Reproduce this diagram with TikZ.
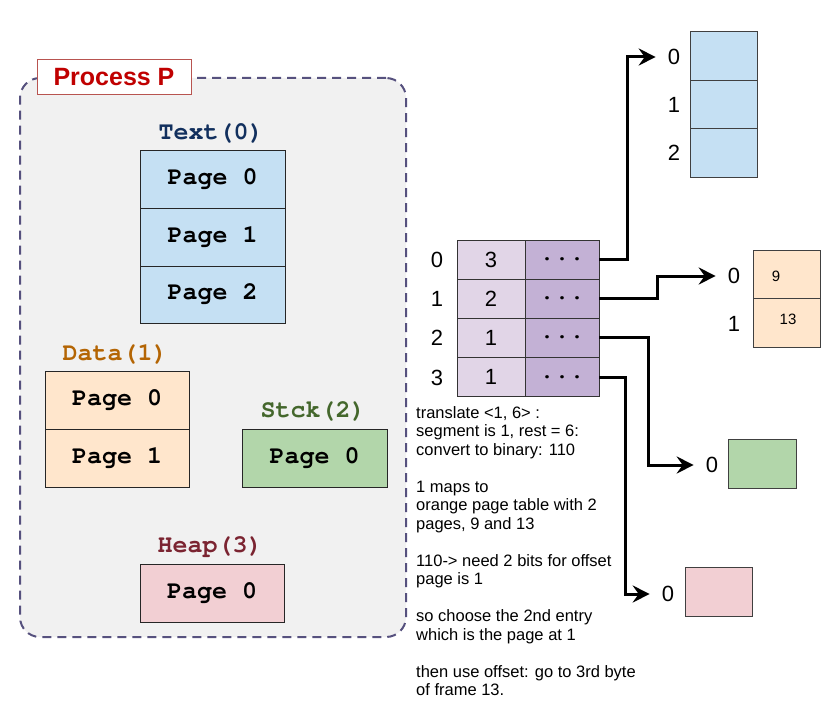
\documentclass[tikz,border=0pt]{standalone}
\usepackage{fontspec}
\setmainfont{Liberation Sans}
\newfontfamily\monof{TeX Gyre Cursor}
\usetikzlibrary{arrows.meta}
\definecolor{procbg}{HTML}{F1F1F1}
\definecolor{procline}{HTML}{56517E}
\definecolor{ptitle}{HTML}{C00000}
\definecolor{ptitleline}{HTML}{B85450}
\definecolor{bluefill}{HTML}{C5E0F3}
\definecolor{orangefill}{HTML}{FFE6CC}
\definecolor{greenfill}{HTML}{B2D6AA}
\definecolor{pinkfill}{HTML}{F2CFD3}
\definecolor{pt1}{HTML}{E1D5E7}
\definecolor{pt2}{HTML}{C3B1D5}
\definecolor{ctext}{HTML}{12305E}
\definecolor{cdata}{HTML}{B46504}
\definecolor{cstck}{HTML}{44672C}
\definecolor{cheap}{HTML}{7B2431}
\begin{document}
\begin{tikzpicture}[x=1pt,y=-1pt,
  pagebox/.style={draw=black!85, line width=0.9pt, inner sep=0pt, font=\monof\bfseries\fontsize{25}{27}\selectfont},
  seglabel/.style={inner sep=0pt, font=\monof\bfseries\fontsize{25}{27}\selectfont},
  tcell/.style={draw=black!80, line width=0.9pt, inner sep=0pt, minimum height=39pt, font=\fontsize{22}{24}\selectfont},
  dots/.style={tcell, fill=pt2, minimum width=74pt, font=\monof\bfseries\fontsize{25}{27}\selectfont},
  frame/.style={draw=black!75, line width=0.9pt, inner sep=0pt, minimum width=67pt, minimum height=48.5pt},
  idx/.style={inner sep=2pt, font=\fontsize{22}{24}\selectfont},
  flbl/.style={inner sep=12pt, font=\fontsize{22}{24}\selectfont},
  conn/.style={line width=3pt, -{Stealth[length=17pt,width=17pt,inset=6pt]}}
]
\useasboundingbox (0,0) rectangle (822,701);

% process container
\node[draw=procline, fill=procbg, line width=2pt, dash pattern=on 9pt off 6pt,
      rounded corners=20pt, minimum width=386pt, minimum height=559pt, inner sep=0pt]
      (proc) at (213,357.5) {};
\node[draw=ptitleline, fill=white, line width=1pt, minimum width=154pt, minimum height=34pt,
      inner sep=0pt, text=ptitle, font=\bfseries\fontsize{25}{27}\selectfont]
      (ptitle) at (114,77) {Process P};

% Text(0)
\node[seglabel, text=ctext] (textlbl) at (211,133) {Text(0)};
\node[pagebox, fill=bluefill, minimum width=145pt, minimum height=58pt] (t0) at (212.5,179) {Page 0};
\node[pagebox, fill=bluefill, minimum width=145pt, minimum height=58pt] (t1) at (212.5,237) {Page 1};
\node[pagebox, fill=bluefill, minimum width=145pt, minimum height=57pt] (t2) at (212.5,294.5) {Page 2};

% Data(1)
\node[seglabel, text=cdata] (datalbl) at (115,354) {Data(1)};
\node[pagebox, fill=orangefill, minimum width=144pt, minimum height=58pt] (d0) at (117,400) {Page 0};
\node[pagebox, fill=orangefill, minimum width=144pt, minimum height=58pt] (d1) at (117,458) {Page 1};

% Stck(2)
\node[seglabel, text=cstck] (stcklbl) at (313,411) {Stck(2)};
\node[pagebox, fill=greenfill, minimum width=145pt, minimum height=58pt] (s0) at (314.5,458) {Page 0};

% Heap(3)
\node[seglabel, text=cheap] (heaplbl) at (210,547) {Heap(3)};
\node[pagebox, fill=pinkfill, minimum width=144pt, minimum height=58pt] (h0) at (212,593) {Page 0};

% segment table
\node[tcell, fill=pt1, minimum width=68pt] (r0a) at (491,259.5) {3};
\node[dots] (r0b) at (562,259.5) {...};
\node[tcell, fill=pt1, minimum width=68pt] (r1a) at (491,298.5) {2};
\node[dots] (r1b) at (562,298.5) {...};
\node[tcell, fill=pt1, minimum width=68pt] (r2a) at (491,337.5) {1};
\node[dots] (r2b) at (562,337.5) {...};
\node[tcell, fill=pt1, minimum width=68pt] (r3a) at (491,377) {1};
\node[dots] (r3b) at (562,377) {...};
\node[idx] (i0) at (437,260) {0};
\node[idx] (i1) at (437,299) {1};
\node[idx] (i2) at (437,338) {2};
\node[idx] (i3) at (437,378) {3};

% explanation
\node[anchor=north west, inner sep=0pt, align=left, font=\fontsize{16.5}{18.5}\selectfont]
  (expl) at (416,406) {translate <1, 6> :\\segment is 1, rest = 6:\\convert to binary: 110\\[18.5pt]1 maps to\\orange page table with 2\\pages, 9 and 13\\[18.5pt]110-> need 2 bits for offset\\page is 1\\[18.5pt]so choose the 2nd entry\\which is the page at 1\\[18.5pt]then use offset: go to 3rd byte\\of frame 13.};

% blue frames
\node[frame, fill=bluefill] (fb0) at (723.5,56) {};
\node[frame, fill=bluefill] (fb1) at (723.5,104.5) {};
\node[frame, fill=bluefill] (fb2) at (723.5,153) {};
\node[flbl] (b0) at (674,57) {0};
\node[flbl] (b1) at (674,105) {1};
\node[flbl] (b2) at (674,153) {2};

% orange frames
\node[frame, fill=orangefill] (fo0) at (786.5,274.5) {};
\node[frame, fill=orangefill] (fo1) at (786.5,323) {};
\node[inner sep=0pt, font=\fontsize{15}{17}\selectfont] (n9) at (776,276) {9};
\node[inner sep=0pt, font=\fontsize{15}{17}\selectfont] (n13) at (788,319) {13};
\node[flbl] (o0) at (734,276) {0};
\node[flbl] (o1) at (734,324) {1};

% green frame
\node[frame, fill=greenfill, minimum width=68pt] (fg0) at (762,464) {};
\node[flbl] (g0) at (712,465) {0};

% pink frame
\node[frame, fill=pinkfill] (fp0) at (718.5,592) {};
\node[flbl] (p0) at (668,594) {0};

% connectors
\draw[conn] (r0b.east) -- ++(28,0) |- (b0.west);
\draw[conn] (r1b.east) -- ++(58,0) |- (o0.west);
\draw[conn] (r2b.east) -- ++(49,0) |- (g0.west);
\draw[conn] (r3b.east) -- ++(26,0) |- (p0.west);
\end{tikzpicture}
\end{document}
